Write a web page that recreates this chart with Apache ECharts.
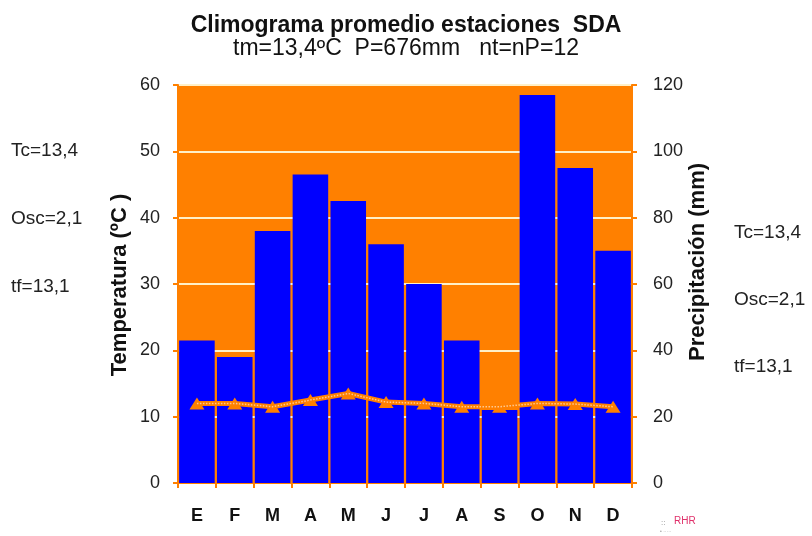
<!DOCTYPE html>
<html>
<head>
<meta charset="utf-8">
<script src="https://cdn.jsdelivr.net/npm/echarts@6/dist/echarts.min.js"></script>
<style>html,body{margin:0;padding:0;background:#fff}#c{width:812px;height:536px}</style>
</head>
<body>
<div id="c"></div>
<script>
var months = ['E','F','M','A','M','J','J','A','S','O','N','D'];
var precip = [43, 38, 76, 93, 85, 72, 60, 43, 22, 117, 95, 70];
var temp = [12.0, 12.0, 11.5, 12.5, 13.5, 12.2, 12.0, 11.5, 11.5, 12.0, 11.9, 11.5];
var tempTicks = [0, 60, 10];
var precipTicks = [0, 120, 20];
var titleText = 'Climograma promedio estaciones  SDA';
var subText = 'tm=13,4ºC  P=676mm   nt=nP=12';
var sideNotes = ['Tc=13,4', 'Osc=2,1', 'tf=13,1'];

var chart = echarts.init(document.getElementById('c'), null, {renderer: 'canvas'});
var FONT = '"Liberation Sans", Arial, sans-serif';
var graphics = [];
var leftY = [151, 219, 287], rightY = [233, 300, 367];
sideNotes.forEach(function (t, i) {
  graphics.push({type: 'text', x: 11, y: leftY[i], style: {text: t, font: '19px ' + FONT, fill: '#222', textVerticalAlign: 'middle'}});
  graphics.push({type: 'text', x: 734, y: rightY[i], style: {text: t, font: '19px ' + FONT, fill: '#222', textVerticalAlign: 'middle'}});
});
graphics.push({type: 'text', x: 120, y: 285, rotation: Math.PI / 2,
  style: {text: 'Temperatura (ºC )', font: 'bold 22px ' + FONT, fill: '#111', textAlign: 'center', textVerticalAlign: 'middle'}});
graphics.push({type: 'text', x: 698, y: 262, rotation: Math.PI / 2,
  style: {text: 'Precipitación (mm)', font: 'bold 22px ' + FONT, fill: '#111', textAlign: 'center', textVerticalAlign: 'middle'}});
graphics.push({type: 'text', left: 661, top: 519, style: {text: '::', font: '8px ' + FONT, fill: '#888'}});
graphics.push({type: 'text', left: 674, top: 516, style: {text: 'RHR', font: '10px ' + FONT, fill: '#e0306a'}});
graphics.push({type: 'text', left: 660, top: 529, style: {text: '• ·····', font: '5px ' + FONT, fill: '#999'}});

chart.setOption({
  animation: false,
  backgroundColor: '#fff',
  title: [
    {text: titleText, left: 'center', top: 9, textStyle: {fontFamily: FONT, fontWeight: 'bold', fontSize: 23, color: '#111'}},
    {text: subText, left: 'center', top: 32, textStyle: {fontFamily: FONT, fontWeight: 'normal', fontSize: 23, color: '#111'}}
  ],
  grid: {left: 178, right: 180, top: 85, bottom: 53, show: true, backgroundColor: '#FF8000', borderWidth: 0},
  xAxis: {
    type: 'category', data: months,
    axisLine: {lineStyle: {color: '#FF8000', width: 2}},
    axisTick: {show: true, length: 5, lineStyle: {color: '#FF8000', width: 2}},
    axisLabel: {margin: 24, fontFamily: FONT, fontWeight: 'bold', fontSize: 18, color: '#111'}
  },
  yAxis: [
    {type: 'value', min: tempTicks[0], max: tempTicks[1], interval: tempTicks[2], position: 'left',
     axisLine: {show: true, lineStyle: {color: '#FF8000', width: 2}},
     axisTick: {show: true, length: 5, lineStyle: {color: '#FF8000', width: 2}},
     axisLabel: {margin: 18, fontFamily: FONT, fontSize: 18, color: '#222'},
     splitLine: {show: true, lineStyle: {color: '#FFF0C8', width: 2}}},
    {type: 'value', min: precipTicks[0], max: precipTicks[1], interval: precipTicks[2], position: 'right',
     axisLine: {show: true, lineStyle: {color: '#FF8000', width: 2}},
     axisTick: {show: true, length: 5, lineStyle: {color: '#FF8000', width: 2}},
     axisLabel: {margin: 21, fontFamily: FONT, fontSize: 18, color: '#222'},
     splitLine: {show: false}}
  ],
  series: [
    {type: 'bar', yAxisIndex: 1, data: precip, barCategoryGap: '6%',
     itemStyle: {color: '#0000FF'}},
    {type: 'line', yAxisIndex: 0, data: temp, symbol: 'triangle', symbolSize: [15, 12],
     lineStyle: {color: '#FF8000', width: 5}, itemStyle: {color: '#FF8000'}, z: 5},
    {type: 'line', yAxisIndex: 0, data: temp, symbol: 'none',
     lineStyle: {color: '#FFC890', width: 1.5, type: 'dotted'}, z: 6}
  ],
  graphic: graphics
});
</script>
</body>
</html>
